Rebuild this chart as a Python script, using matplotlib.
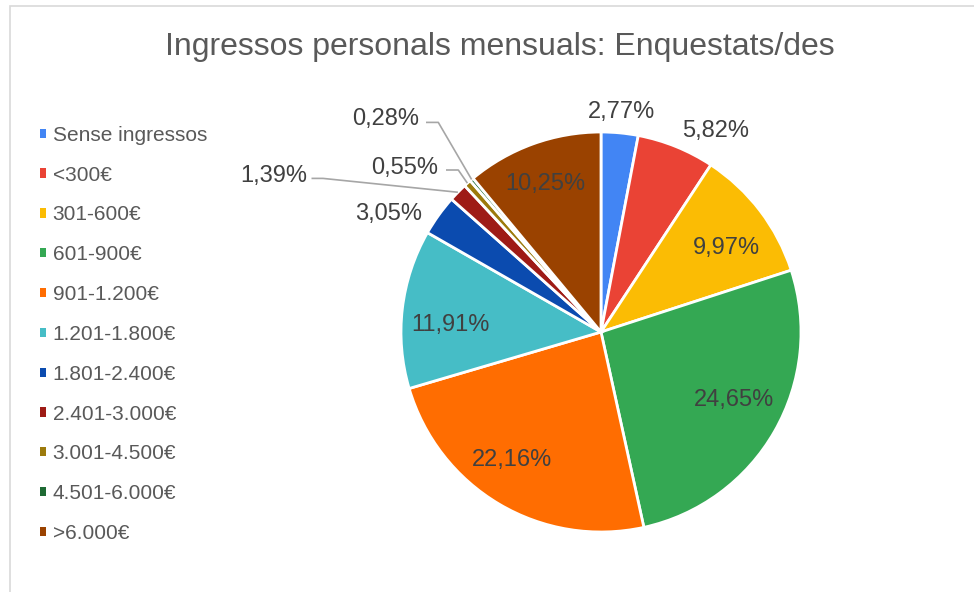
import matplotlib
matplotlib.use("Agg")
import matplotlib.pyplot as plt
from matplotlib.patches import Rectangle
import numpy as np

plt.rcParams['font.family'] = ['Liberation Sans', 'DejaVu Sans']

categories = ["Sense ingressos", "<300€", "301-600€", "601-900€", "901-1.200€",
              "1.201-1.800€", "1.801-2.400€", "2.401-3.000€", "3.001-4.500€",
              "4.501-6.000€", ">6.000€"]
values = [2.77, 5.82, 9.97, 24.65, 22.16, 11.91, 3.05, 1.39, 0.55, 0.28, 10.25]
labels = ["2,77%", "5,82%", "9,97%", "24,65%", "22,16%", "11,91%",
          "3,05%", "1,39%", "0,55%", "0,28%", "10,25%"]
colors = ["#4285F4", "#EA4335", "#FBBC04", "#34A853", "#FF6D01", "#46BDC6",
          "#0B4BAF", "#9E1B16", "#9C7A0C", "#1E6A33", "#9A4200"]

# label placement: (radius, angle shift in degrees) relative to wedge middle
label_pos = {0: (1.115, 0), 1: (1.165, -7.3), 2: (0.764, -2.8), 3: (0.742, 3.4),
             4: (0.772, -4.7), 5: (0.754, 3.1), 10: (0.80, 0.3)}
# labels placed outside by hand (data units, radius = 1)
label_xy = {6: (-1.06, 0.6025), 7: (-1.635, 0.79), 8: (-0.98, 0.83),
            9: (-1.0775, 1.0785)}
# leader lines: (x start, x knee, y)
leaders = {7: (-1.4475, -1.39, 0.768), 8: (-0.775, -0.7135, 0.81),
           9: (-0.875, -0.8135, 1.048)}

W, H = 974, 592
cx, cy, R = 601, 332, 200  # pie centre / radius in pixels
FS = 17
half_cap = FS * 100 / 72 * 0.716 / 2 / R  # half cap height in data units

fig = plt.figure(figsize=(W / 100, H / 100), dpi=100)
ax = fig.add_axes([0, 0, 1, 1])

# chart frame (only the left and top edges are inside the picture)
fig.patches.append(Rectangle((10 / W, -0.1), 1.2, (H - 6) / H + 0.1,
                             transform=fig.transFigure, fill=False,
                             edgecolor="#D9D9D9", linewidth=1.2))

wedges, _ = ax.pie(values, colors=colors, startangle=90, counterclock=False,
                   radius=1.0, wedgeprops=dict(edgecolor="white", linewidth=2))
ax.set_xlim(-cx / R, (W - cx) / R)
ax.set_ylim(-(H - cy) / R, cy / R)
ax.set_aspect('equal')
ax.axis('off')

for i, w in enumerate(wedges):
    mid = (w.theta1 + w.theta2) / 2
    if i in label_pos:
        r, shift = label_pos[i]
        a = np.deg2rad(mid + shift)
        x, y = r * np.cos(a), r * np.sin(a)
    else:
        x, y = label_xy[i]
    ax.text(x, y - half_cap, labels[i], ha="center", va="baseline",
            fontsize=FS, color="#404040")
    if i in leaders:
        x0, x1, ly = leaders[i]
        a = np.deg2rad(mid)
        ax.plot([x0, x1, np.cos(a)], [ly, ly, np.sin(a)], color="#A6A6A6",
                lw=1.2, solid_capstyle="butt")

fig.text(500 / W, 1 - 47 / H, "Ingressos personals mensuals: Enquestats/des",
         ha="center", va="center", fontsize=23, color="#595959")

leg = fig.legend(wedges, categories, loc="upper left",
                 bbox_to_anchor=(21 / W, 1 - 107 / H), frameon=False,
                 fontsize=15, labelcolor="#595959", handlelength=0.3,
                 handleheight=0.3, handletextpad=0.32, labelspacing=1.0)
for h in leg.legend_handles:
    h.set_linewidth(0)

fig.savefig("out.png", dpi=100)
